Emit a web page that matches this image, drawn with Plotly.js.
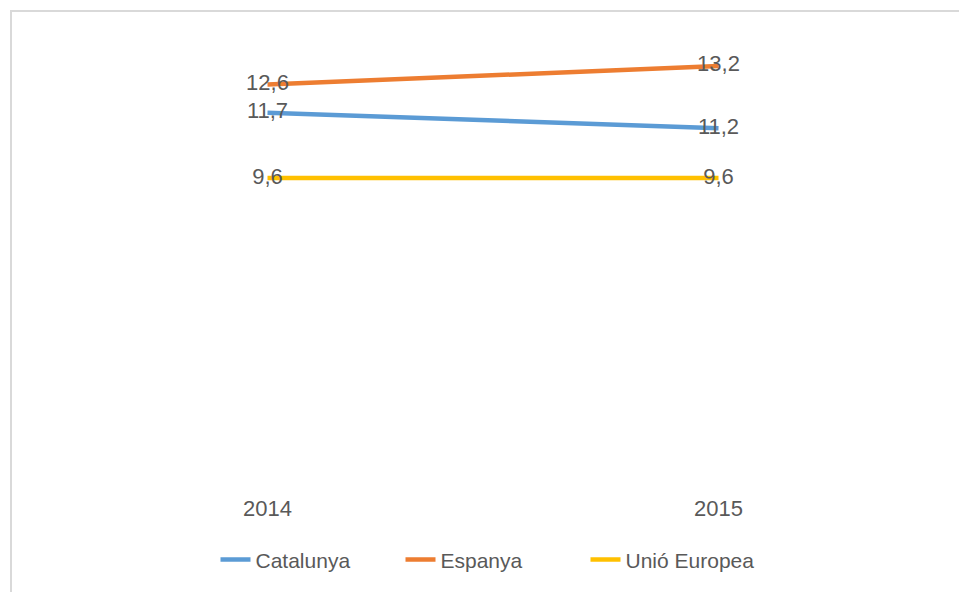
<!DOCTYPE html>
<html>
<head>
<meta charset="utf-8">
<script src="https://cdn.plot.ly/plotly-3.0.1.min.js"></script>
<style>
  html, body { margin: 0; padding: 0; background: #ffffff; }
  #frame { position: absolute; left: 10px; top: 10px; width: 1000px; height: 700px; border: 2px solid #d9d9d9; box-sizing: border-box; }
  #chart { position: absolute; left: 0; top: 0; width: 959px; height: 592px; }
</style>
</head>
<body>
<div id="frame"></div>
<div id="chart"></div>
<script>
const years = ['2014', '2015'];
const catalunya = [11.7, 11.2];
const espanya = [12.6, 13.2];
const unioEuropea = [9.6, 9.6];
const seriesNames = ['Catalunya', 'Espanya', 'Unió Europea'];
const seriesColors = ['#5B9BD5', '#ED7D31', '#FFC000'];
const seriesValues = [catalunya, espanya, unioEuropea];

const fmt = v => v.toFixed(1).replace('.', ',');
const FONT = 'Liberation Sans, Arial, sans-serif';
const TXT = '#595959';

const traces = seriesValues.map((vals, i) => ({
  type: 'scatter',
  mode: 'lines+text',
  name: seriesNames[i],
  x: years,
  y: vals,
  text: vals.map(fmt),
  textposition: 'middle center',
  textfont: { family: FONT, size: 22, color: TXT },
  line: { color: seriesColors[i], width: 4.5 },
  cliponaxis: false,
  hoverinfo: 'skip'
}));

const layout = {
  width: 959,
  height: 592,
  margin: { l: 42, r: 15, t: 41, b: 115 },
  paper_bgcolor: 'rgba(0,0,0,0)',
  plot_bgcolor: 'rgba(0,0,0,0)',
  font: { family: FONT, size: 22, color: TXT },
  showlegend: true,
  legend: {
    orientation: 'h',
    x: 0.5, xanchor: 'center',
    y: -0.19, yanchor: 'middle',
    font: { family: FONT, size: 21, color: TXT },
    traceorder: 'normal',
    entrywidth: 140,
    entrywidthmode: 'pixels'
  },
  xaxis: {
    type: 'category',
    range: [-0.5, 1.5],
    showgrid: false,
    zeroline: false,
    showline: false,
    ticks: '',
    ticklabelstandoff: 16,
    tickfont: { family: FONT, size: 22, color: TXT },
    fixedrange: true
  },
  yaxis: {
    range: [0, 14],
    showgrid: false,
    zeroline: false,
    showline: false,
    showticklabels: false,
    ticks: '',
    fixedrange: true
  }
};

Plotly.newPlot('chart', traces, layout, { displayModeBar: false, staticPlot: true });
</script>
</body>
</html>
